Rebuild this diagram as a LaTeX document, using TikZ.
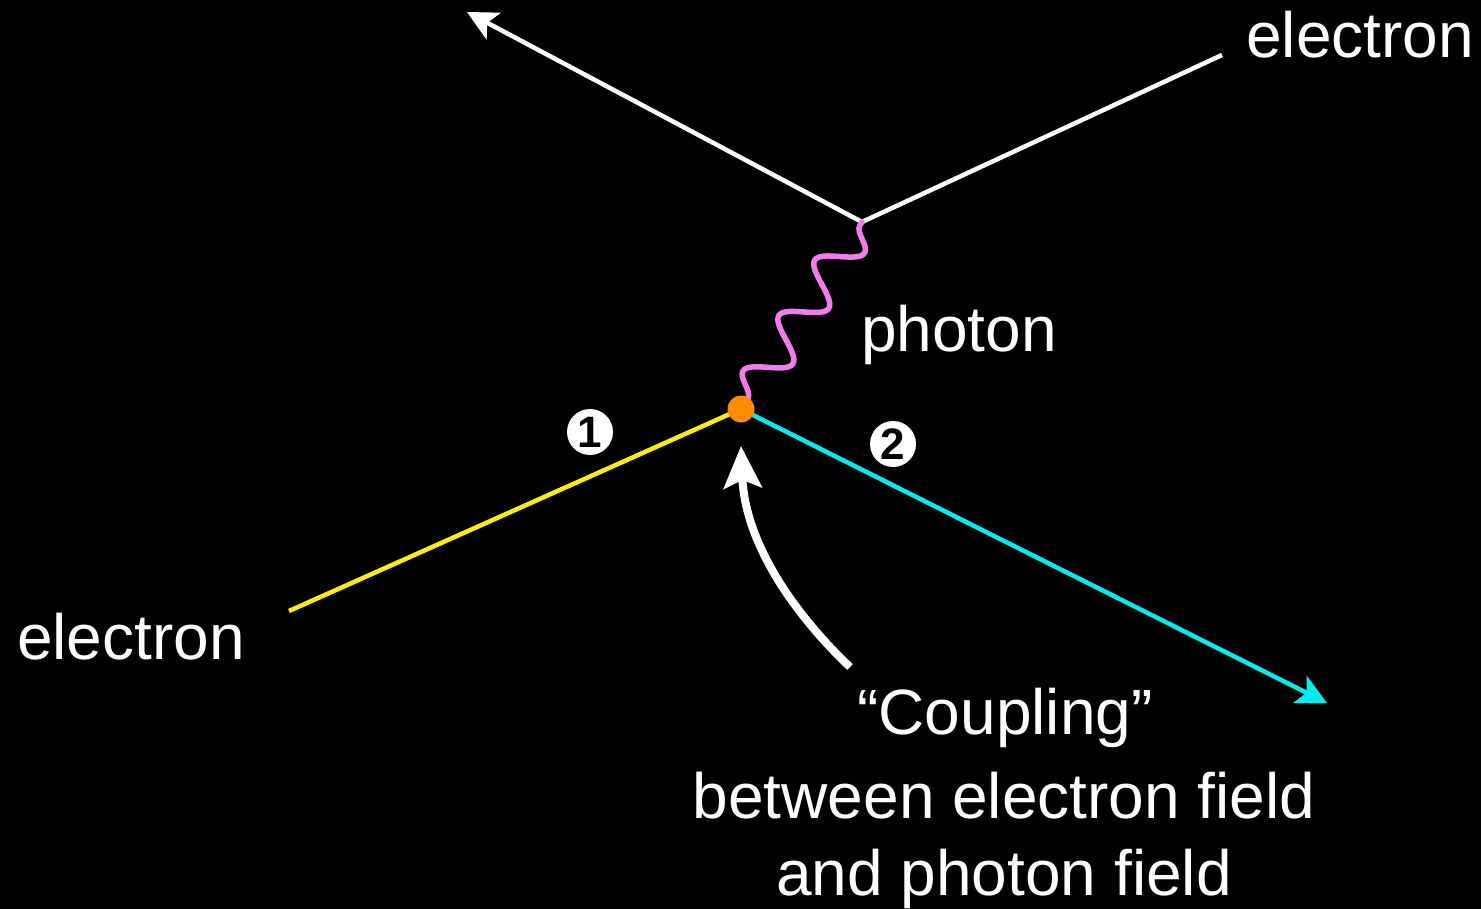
\documentclass[tikz,border=0pt]{standalone}
\usepackage{fontspec}
\setmainfont{Liberation Sans}
\usetikzlibrary{arrows.meta,decorations.pathmorphing}
\definecolor{photonc}{RGB}{240,125,235}
\definecolor{dotc}{RGB}{255,140,0}
\definecolor{yel}{RGB}{255,240,0}
\definecolor{cya}{RGB}{0,235,235}
\begin{document}
\begin{tikzpicture}[x=1pt,y=-1pt,
  lbl/.style={text=white,font=\fontsize{64}{76}\selectfont,inner sep=0pt},
  fline/.style={line width=4.5pt},
  num/.style={circle,fill=white,minimum size=46pt,inner sep=0pt,text=black,font=\fontsize{44}{44}\selectfont\bfseries}]
\fill[black] (0,0) rectangle (1481,909);
\useasboundingbox (0,0) rectangle (1481,909);
% vertices
\coordinate (top) at (862,222);
\coordinate (vtx) at (741,409);
\coordinate (tl) at (467,12);
\coordinate (tr) at (1222,55);
\coordinate (bl) at (289,611);
\coordinate (br) at (1327,703);
\coordinate (arrstart) at (850,667);
\coordinate (arrtip) at (741,446);
% electron lines
\draw[white,fline,-{Stealth[length=30pt,width=30pt,inset=7pt]}] (top) -- (tl);
\draw[white,fline] (top) -- (tr);
\draw[yel,fline] (vtx) -- (bl);
\draw[cya,fline,-{Stealth[length=30pt,width=30pt,inset=7pt]}] (vtx) -- (br);
% photon
\draw[photonc,line width=5.5pt,line cap=round,decorate,decoration={snake,segment length=66pt,amplitude=19pt,pre length=4pt,post length=4pt}] (top) -- (vtx);
\node[circle,fill=dotc,minimum size=27pt,inner sep=0pt] (dot) at (vtx) {};
% coupling arrow
\draw[white,line width=8pt,-{Stealth[length=42pt,width=38pt,inset=8pt]}] (arrstart) .. controls (790,610) and (745,540) .. (arrtip);
% numbers
\node[num] (n1) at (590,432) {1};
\node[num] (n2) at (893,444) {2};
% labels
\node[lbl,anchor=base west] (etr) at (1246,58) {electron};
\node[lbl,anchor=base west] (ph) at (861,352) {photon};
\node[lbl,anchor=base west] (ebl) at (17,659) {electron};
\node[lbl,anchor=base] (c1) at (1005,734) {“Coupling”};
\node[lbl,anchor=base] (c2) at (1004,818) {between electron field};
\node[lbl,anchor=base] (c3) at (1004,895) {and photon field};
\end{tikzpicture}
\end{document}
